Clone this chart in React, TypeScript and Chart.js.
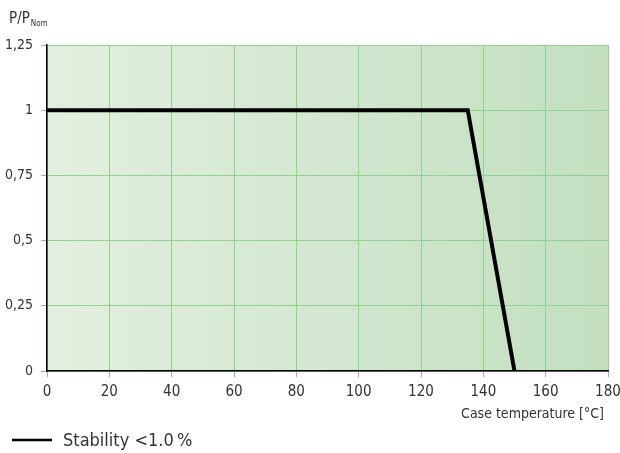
import React, { useEffect, useRef } from "react";
import { Chart, registerables } from "chart.js";

Chart.register(...registerables);

const temperatures = [0, 135, 150];
const powerRatio = [1, 1, 0];
const xTicks = [0, 20, 40, 60, 80, 100, 120, 140, 160, 180];
const yTicks = [0, 0.25, 0.5, 0.75, 1, 1.25];
const seriesLabel = "Stability <1.0\u2009%";
const xTitle = "Case temperature [°C]";
const FONT = "'DejaVu Sans Condensed', 'Liberation Sans Narrow', Roboto, sans-serif";

const bgPlugin = {
  id: "bgGradient",
  beforeDraw(chart: any) {
    const { ctx, chartArea } = chart;
    if (!chartArea) return;
    const g = ctx.createLinearGradient(chartArea.left, 0, chartArea.right, 0);
    g.addColorStop(0, "#e3efe0");
    g.addColorStop(1, "#c3dfc0");
    ctx.save();
    ctx.fillStyle = g;
    ctx.fillRect(chartArea.left, chartArea.top, chartArea.right - chartArea.left, chartArea.bottom - chartArea.top);
    ctx.restore();
  },
};

const textPlugin = {
  id: "extraText",
  afterDraw(chart: any) {
    const { ctx, chartArea } = chart;
    ctx.save();
    ctx.fillStyle = "#333";
    ctx.textBaseline = "alphabetic";
    ctx.textAlign = "left";
    ctx.font = `15px ${FONT}`;
    ctx.fillText("P/P", 9, 23);
    const w = ctx.measureText("P/P").width;
    ctx.font = `8px ${FONT}`;
    ctx.fillText("Nom", 9 + w + 1, 26);
    ctx.font = `14px ${FONT}`;
    ctx.textAlign = "right";
    ctx.fillText(xTitle, chartArea.right - 4, 418);
    const ds = chart.data.datasets[0];
    ctx.strokeStyle = "#000";
    ctx.lineWidth = 2.5;
    ctx.beginPath();
    ctx.moveTo(12, 440);
    ctx.lineTo(52, 440);
    ctx.stroke();
    ctx.textAlign = "left";
    ctx.font = `18px ${FONT}`;
    ctx.fillText(ds.label, 63, 446);
    ctx.restore();
  },
};

export default function App() {
  const ref = useRef<HTMLCanvasElement>(null);
  useEffect(() => {
    if (!ref.current) return;
    const chart = new Chart(ref.current, {
      type: "line",
      data: {
        datasets: [
          {
            label: seriesLabel,
            data: temperatures.map((t, i) => ({ x: t, y: powerRatio[i] })),
            borderColor: "#000",
            borderWidth: 4,
            pointRadius: 0,
            fill: false,
            tension: 0,
          },
        ],
      },
      options: {
        animation: false,
        responsive: false,
        layout: { padding: { top: 45, right: 12, left: 0, bottom: 0 } },
        plugins: { legend: { display: false }, tooltip: { enabled: false } },
        scales: {
          x: {
            type: "linear",
            min: 0,
            max: 180,
            afterBuildTicks: (s: any) => {
              s.ticks = xTicks.map((v) => ({ value: v }));
            },
            afterFit: (s: any) => {
              s.height = 82;
              s.paddingRight = 0;
            },
            ticks: { color: "#333", font: { size: 15, family: FONT }, padding: 6 },
            grid: { color: "#8fd18f", lineWidth: 1, tickLength: 6, tickColor: "#aaa" },
            border: { color: "#000", width: 1.5 },
          },
          y: {
            type: "linear",
            min: 0,
            max: 1.25,
            afterBuildTicks: (s: any) => {
              s.ticks = yTicks.map((v) => ({ value: v }));
            },
            afterFit: (s: any) => {
              s.width = 47;
            },
            ticks: {
              color: "#333",
              font: { size: 14, family: FONT },
              padding: 8,
              callback: (v: any) => String(v).replace(".", ","),
            },
            grid: { color: "#8fd18f", lineWidth: 1, tickLength: 6, tickColor: "#aaa" },
            border: { color: "#000", width: 1.5 },
          },
        },
      },
      plugins: [bgPlugin, textPlugin],
    });
    return () => chart.destroy();
  }, []);
  return (
    <div style={{ position: "fixed", left: 0, top: 0, width: 620, height: 453, background: "#fff" }}>
      <canvas ref={ref} width={620} height={453} style={{ width: 620, height: 453 }} />
    </div>
  );
}
